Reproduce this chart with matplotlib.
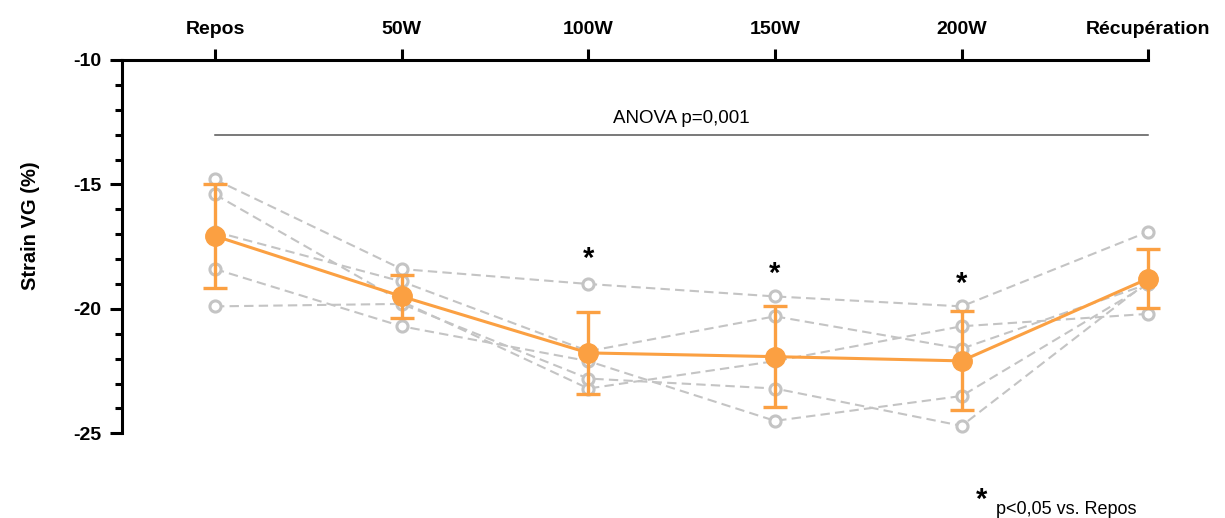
import numpy as np
import matplotlib
matplotlib.use("Agg")
import matplotlib.pyplot as plt
from matplotlib.ticker import MultipleLocator

plt.rcParams['font.family'] = ['Liberation Sans', 'DejaVu Sans']

# Stages (x axis, shown on top)
stages = ["Repos", "50W", "100W", "150W", "200W", "Récupération"]

# Individual subjects (strain VG, %)
subj_a = [-14.8, -18.4, -19.0, -19.5, -19.9, -16.9]
subj_b = [-15.4, -19.7, -23.2, -22.1, -20.7, -20.2]
subj_c = [-16.9, -18.9, -21.7, -20.3, -21.6, -19.0]
subj_d = [-18.4, -20.7, -22.1, -24.5, -23.5, -19.0]
subj_e = [-19.9, -19.8, -22.8, -23.2, -24.7, -18.9]
subjects = [subj_a, subj_b, subj_c, subj_d, subj_e]

# Group mean and SD
mean_vals = [-17.07, -19.50, -21.77, -21.92, -22.09, -18.78]
sd_vals = [2.1, 0.88, 1.65, 2.03, 1.99, 1.18]

# Significance stars (p<0.05 vs Repos)
star_idx = [2, 3, 4]
star_y = [-18.0, -18.6, -19.0]

anova_y = -13.0
anova_text = "ANOVA p=0,001"

orange = "#FBA042"
grey = "#C4C4C4"

fig = plt.figure(figsize=(12.25, 5.18), dpi=100)
ax = fig.add_axes([122 / 1225, 1 - 433.3 / 518, (1223 - 122) / 1225, (433.3 - 60) / 518])

x = np.arange(len(stages))

# individual subjects
for s in subjects:
    ax.plot(x, s, color=grey, linestyle=(0, (4.5, 2.5)), linewidth=1.5,
            marker="o", markersize=8, markerfacecolor="white",
            markeredgecolor=grey, markeredgewidth=2.2, clip_on=False, zorder=2)

# mean +/- SD
ax.errorbar(x, mean_vals, yerr=sd_vals, color=orange, linewidth=2.2,
            marker="o", markersize=14, elinewidth=2.4, capsize=8.5, capthick=2.4,
            clip_on=False, zorder=4)

# stars
for i, yy in zip(star_idx, star_y):
    ax.text(x[i], yy, "*", ha="center", va="center", fontsize=21,
            fontweight="bold", color="black")

# ANOVA line
ax.plot([x[0], x[-1]], [anova_y, anova_y], color="#555555", linewidth=1.1)
ax.text((x[0] + x[-1]) / 2, anova_y + 0.3, anova_text, ha="center", va="bottom",
        fontsize=13.5)

# axes styling
ax.set_xlim(-0.498, 5.4)
ax.set_ylim(-25, -10)
ax.spines['right'].set_visible(False)
ax.spines['bottom'].set_visible(False)
ax.spines['top'].set_bounds(-0.498, 5)
ax.spines['top'].set_linewidth(2.2)
ax.spines['left'].set_linewidth(2.2)

ax.xaxis.tick_top()
ax.set_xticks(x)
ax.set_xticklabels(stages, fontsize=14, fontweight="bold")
ax.tick_params(axis="x", direction="out", length=8, width=2.2, pad=8)

ax.yaxis.set_major_locator(MultipleLocator(5))
ax.yaxis.set_minor_locator(MultipleLocator(1))
ax.set_yticks([-10, -15, -20, -25])
ax.set_yticklabels(["-10", "-15", "-20", "-25"], fontsize=14, fontweight="bold")
ax.tick_params(axis="y", which="major", direction="out", length=9, width=2.2, pad=6)
ax.tick_params(axis="y", which="minor", direction="out", length=5, width=2.2)

fig.text(30 / 1225, 1 - 226 / 518, "Strain VG (%)", rotation=90, ha="center",
         va="center", fontsize=14.5, fontweight="bold")

# legend note
fig.text(982 / 1225, 1 - 500 / 518, "*", ha="center", va="center", fontsize=21,
         fontweight="bold")
fig.text(996 / 1225, 1 - 509 / 518, "p<0,05 vs. Repos", ha="left", va="center",
         fontsize=13)

fig.savefig("out.png", dpi=100)
